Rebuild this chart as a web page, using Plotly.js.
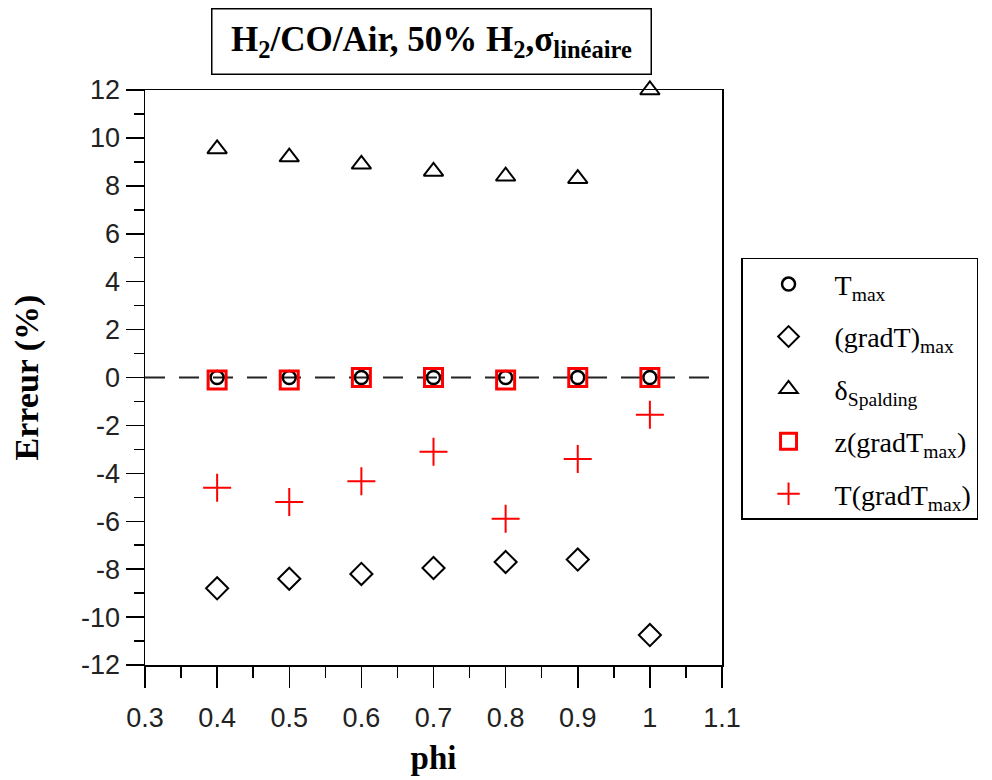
<!DOCTYPE html>
<html>
<head>
<meta charset="utf-8">
<script src="https://cdn.plot.ly/plotly-3.0.1.min.js"></script>
<style>html,body{margin:0;padding:0;background:#fff;}#chart{width:992px;height:780px;}</style>
</head>
<body>
<div id="chart"></div>
<script>
const phi = [0.4, 0.5, 0.6, 0.7, 0.8, 0.9, 1.0];
const tMax = [0, 0, 0, 0, 0, 0, 0];
const gradTMax = [-8.8, -8.4, -8.2, -7.95, -7.7, -7.6, -10.75];
const deltaSpalding = [9.54, 9.2, 8.9, 8.6, 8.4, 8.3, 12.0];
const zGradTMax = [-0.1, -0.1, 0, 0, -0.1, 0, 0];
const tGradTMax = [-4.6, -5.2, -4.33, -3.1, -5.9, -3.4, -1.55];

const seriesNames = ["T<sub>max</sub>", "(gradT)<sub>max</sub>", "δ<sub>Spalding</sub>", "z(gradT<sub>max</sub>)", "T(gradT<sub>max</sub>)"];
const xTicks = [0.3, 0.4, 0.5, 0.6, 0.7, 0.8, 0.9, 1.0, 1.1];
const xTickText = ["0.3", "0.4", "0.5", "0.6", "0.7", "0.8", "0.9", "1", "1.1"];
const yTicks = [-12, -10, -8, -6, -4, -2, 0, 2, 4, 6, 8, 10, 12];
const yTickText = ["-12", "-10", "-8", "-6", "-4", "-2", "0", "2", "4", "6", "8", "10", "12"];

const serif = "Liberation Serif, Times New Roman, serif";
const sans = "Liberation Sans, Arial, sans-serif";

function tr(y, name, i, marker) {
  return {x: phi, y: y, name: name, type: 'scatter', mode: 'markers', legendgroup: 'g' + i,
          cliponaxis: false, marker: marker};
}

const data = [
  tr(tMax, seriesNames[0], 0, {symbol: 'circle-open', size: 13, color: '#000', line: {color: '#000', width: 2.5}}),
  tr(gradTMax, seriesNames[1], 1, {symbol: 'diamond-open', size: 17, color: '#000', line: {color: '#000', width: 2}}),
  tr(deltaSpalding, seriesNames[2], 2, {symbol: 'triangle-up-open', size: 17, color: '#000', line: {color: '#000', width: 2}}),
  tr(zGradTMax, seriesNames[3], 3, {symbol: 'square-open', size: 18, color: '#ff0000', line: {color: '#ff0000', width: 3}}),
  tr(tGradTMax, seriesNames[4], 4, {symbol: 'cross-thin-open', size: 20, color: '#ff0000', line: {color: '#ff0000', width: 2}})
];

const layout = {
  width: 992, height: 780,
  margin: {l: 145, r: 270, t: 90, b: 115},
  paper_bgcolor: '#fff', plot_bgcolor: '#fff',
  showlegend: true,
  xaxis: {
    range: [0.3, 1.1], tickvals: xTicks, ticktext: xTickText,
    ticks: 'outside', ticklen: 21, tickwidth: 1.5, tickcolor: '#000',
    showline: true, linecolor: '#000', linewidth: 1.5, mirror: true,
    showgrid: false, zeroline: false, ticklabelstandoff: 7,
    minor: {dtick: 0.05, tick0: 0.3, ticks: 'outside', ticklen: 11, tickwidth: 1.5, tickcolor: '#000', showgrid: false},
    tickfont: {family: sans, size: 27, color: '#222'},
    title: {text: '<b>phi</b>', font: {family: serif, size: 33, color: '#000'}, standoff: 14}
  },
  yaxis: {
    range: [-12, 12], tickvals: yTicks, ticktext: yTickText,
    ticks: 'outside', ticklen: 18, tickwidth: 1.5, tickcolor: '#000',
    showline: true, linecolor: '#000', linewidth: 1.5, mirror: true,
    showgrid: false, zeroline: false,
    minor: {dtick: 1, ticks: 'outside', ticklen: 10, tickwidth: 1.5, tickcolor: '#000', showgrid: false},
    tickfont: {family: sans, size: 27, color: '#222'},
    title: {text: '<b>Erreur (%)</b>', font: {family: serif, size: 34, color: '#000'}, standoff: 32}
  },
  legend: {
    x: 1.033, y: 0.708, xanchor: 'left', yanchor: 'top',
    bgcolor: '#fff', bordercolor: '#000', borderwidth: 1.5,
    font: {family: serif, size: 28, color: '#000'},
    traceorder: 'grouped', tracegroupgap: 13, itemwidth: 82
  },
  shapes: [{
    type: 'line', xref: 'paper', yref: 'y', x0: 0, x1: 1, y0: 0, y1: 0,
    line: {color: '#222', width: 2, dash: '20px,14px'}, layer: 'below'
  }],
  annotations: [{
    xref: 'paper', yref: 'paper', x: 0.497, y: 1.084, xanchor: 'center', yanchor: 'middle',
    text: '<b>H<sub>2</sub>/CO/Air, 50% H<sub>2</sub>,σ<sub>linéaire</sub></b>',
    showarrow: false, font: {family: serif, size: 35, color: '#000'},
    bordercolor: '#000', borderwidth: 1.5, bgcolor: '#fff', width: 436, height: 62
  }]
};

Plotly.newPlot('chart', data, layout, {displayModeBar: false, staticPlot: true});
</script>
</body>
</html>
